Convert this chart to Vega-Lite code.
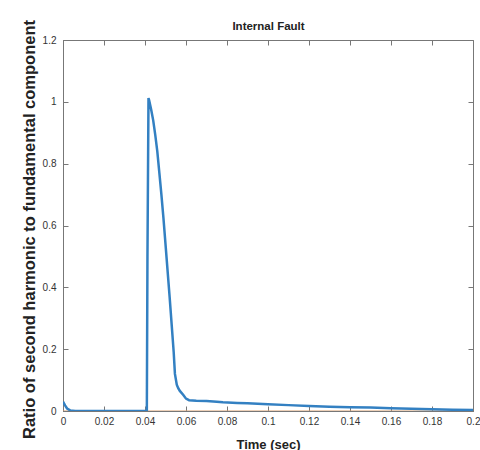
{
  "$schema": "https://vega.github.io/schema/vega-lite/v6.json",
  "autosize": "none",
  "width": 410,
  "height": 371,
  "padding": {"left": 63, "top": 40, "right": 7, "bottom": 39},
  "background": "white",
  "config": {
    "view": {"stroke": "#777", "strokeWidth": 1},
    "axis": {"grid": false, "domainColor": "#777", "tickColor": "#777", "tickSize": -5, "labelFont": "Liberation Sans", "labelFontSize": 10, "labelColor": "#333", "titleFont": "Liberation Sans", "titleColor": "#222", "titleFontWeight": "bold", "format": "~g"}
  },
  "datasets": {
    "blue": [
      {"t": 0, "v": 0.03}, {"t": 0.001, "v": 0.018}, {"t": 0.002, "v": 0.008}, {"t": 0.0035, "v": 0.002},
      {"t": 0.006, "v": 0.0}, {"t": 0.02, "v": 0.0}, {"t": 0.04, "v": 0.0}, {"t": 0.0409, "v": 0.0},
      {"t": 0.0412, "v": 0.5}, {"t": 0.0417, "v": 1.012}, {"t": 0.042, "v": 1.006}, {"t": 0.043, "v": 0.975},
      {"t": 0.044, "v": 0.94}, {"t": 0.045, "v": 0.893}, {"t": 0.046, "v": 0.84}, {"t": 0.047, "v": 0.77},
      {"t": 0.048, "v": 0.7}, {"t": 0.049, "v": 0.624}, {"t": 0.05, "v": 0.54}, {"t": 0.051, "v": 0.455},
      {"t": 0.052, "v": 0.37}, {"t": 0.053, "v": 0.28}, {"t": 0.054, "v": 0.19}, {"t": 0.0546, "v": 0.12},
      {"t": 0.0555, "v": 0.085}, {"t": 0.0562, "v": 0.074}, {"t": 0.057, "v": 0.065}, {"t": 0.0587, "v": 0.052},
      {"t": 0.06, "v": 0.04}, {"t": 0.0615, "v": 0.035}, {"t": 0.065, "v": 0.033}, {"t": 0.07, "v": 0.032},
      {"t": 0.075, "v": 0.03}, {"t": 0.078, "v": 0.028}, {"t": 0.085, "v": 0.026}, {"t": 0.09, "v": 0.025},
      {"t": 0.1, "v": 0.022}, {"t": 0.11, "v": 0.019}, {"t": 0.12, "v": 0.016}, {"t": 0.13, "v": 0.014},
      {"t": 0.14, "v": 0.012}, {"t": 0.15, "v": 0.011}, {"t": 0.16, "v": 0.009}, {"t": 0.17, "v": 0.007},
      {"t": 0.18, "v": 0.006}, {"t": 0.19, "v": 0.004}, {"t": 0.2, "v": 0.003}
    ],
    "orange": [
      {"t": 0, "v": 0.0}, {"t": 0.2, "v": 0.0}
    ]
  },
  "layer": [
    {
      "data": {"name": "orange"},
      "mark": {"type": "line", "color": "#D9A070", "strokeWidth": 1, "clip": true},
      "encoding": {
        "x": {"field": "t", "type": "quantitative", "scale": {"domain": [0, 0.2], "nice": false}, "axis": {"title": "Time (sec)", "titleFontSize": 13, "titlePadding": 12, "values": [0, 0.02, 0.04, 0.06, 0.08, 0.1, 0.12, 0.14, 0.16, 0.18, 0.2], "labelPadding": 10, "labelFlush": false}},
        "y": {"field": "v", "type": "quantitative", "scale": {"domain": [0, 1.2], "nice": false}, "axis": {"title": "Ratio of second harmonic to fundamental component", "titleFontSize": 16.5, "titleX": -34, "titleY": 189, "titleAnchor": "middle", "titleBaseline": "middle", "values": [0, 0.2, 0.4, 0.6, 0.8, 1, 1.2], "labelPadding": 12, "labelFlush": false}}
      }
    },
    {
      "data": {"name": "blue"},
      "mark": {"type": "line", "color": "#3380c2", "strokeWidth": 2.5, "clip": true},
      "encoding": {
        "x": {"field": "t", "type": "quantitative", "scale": {"domain": [0, 0.2], "nice": false}, "axis": {"orient": "top", "labels": false, "title": "Internal Fault", "titleFontSize": 11.5, "titleX": 205, "titleY": -14, "titleAnchor": "middle", "titleBaseline": "middle", "domain": false, "values": [0, 0.02, 0.04, 0.06, 0.08, 0.1, 0.12, 0.14, 0.16, 0.18, 0.2]}},
        "y": {"field": "v", "type": "quantitative", "scale": {"domain": [0, 1.2], "nice": false}, "axis": {"orient": "right", "labels": false, "title": null, "domain": false, "values": [0, 0.2, 0.4, 0.6, 0.8, 1, 1.2]}}
      }
    }
  ],
  "resolve": {"axis": {"x": "independent", "y": "independent"}}
}
